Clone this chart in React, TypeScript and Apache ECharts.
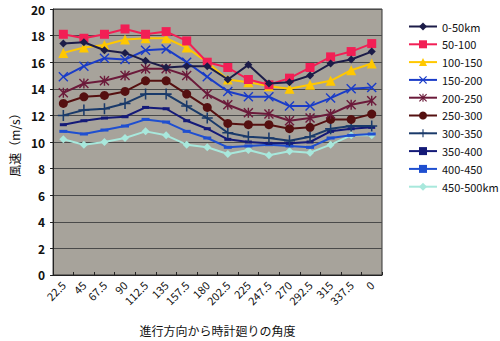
import React, { useEffect, useRef } from "react";
import * as echarts from "echarts";

const categories = ["22.5", "45", "67.5", "90", "112.5", "135", "157.5", "180", "202.5", "225", "247.5", "270", "292.5", "315", "337.5", "0"];

const seriesNames = ["0-50km", "50-100", "100-150", "150-200", "200-250", "250-300", "300-350", "350-400", "400-450", "450-500km"];

const s0_50 = [17.4, 17.5, 16.9, 16.7, 16.1, 15.6, 15.7, 15.7, 14.7, 15.8, 14.4, 14.5, 15.0, 15.9, 16.2, 16.8];
const s50_100 = [18.1, 17.8, 18.1, 18.5, 18.1, 18.3, 17.6, 16.0, 15.6, 14.7, 14.3, 14.8, 15.6, 16.4, 16.8, 17.4];
const s100_150 = [16.7, 17.1, 17.3, 17.7, 17.8, 17.8, 17.1, 16.0, 14.7, 14.5, 14.2, 14.0, 14.3, 14.6, 15.4, 15.9];
const s150_200 = [14.9, 15.7, 16.3, 16.2, 16.9, 17.0, 16.0, 14.9, 13.8, 13.4, 13.4, 12.7, 12.7, 13.3, 14.0, 14.1];
const s200_250 = [13.7, 14.4, 14.6, 15.0, 15.5, 15.5, 15.0, 13.6, 12.8, 12.2, 12.1, 11.6, 11.8, 12.1, 12.8, 13.1];
const s250_300 = [12.9, 13.4, 13.5, 13.8, 14.6, 14.6, 13.6, 12.6, 11.4, 11.3, 11.3, 11.0, 11.1, 11.7, 11.7, 12.1];
const s300_350 = [12.0, 12.4, 12.5, 12.9, 13.6, 13.6, 12.7, 11.8, 10.7, 10.4, 10.3, 10.1, 10.4, 11.0, 11.2, 11.2];
const s350_400 = [11.3, 11.6, 11.8, 11.9, 12.6, 12.5, 11.6, 11.0, 10.2, 10.0, 9.9, 9.9, 10.0, 10.8, 11.0, 11.1];
const s400_450 = [10.8, 10.6, 10.9, 11.2, 11.7, 11.5, 10.8, 10.3, 9.6, 9.7, 9.8, 9.7, 9.6, 10.3, 10.5, 10.6];
const s450_500 = [10.2, 9.8, 10.0, 10.3, 10.8, 10.5, 9.8, 9.6, 9.1, 9.4, 9.0, 9.3, 9.2, 9.8, 10.5, 10.5];

const allData = [s0_50, s50_100, s100_150, s150_200, s200_250, s250_300, s300_350, s350_400, s400_450, s450_500];

const colors = ["#1c1c48", "#f21f55", "#ffc800", "#1a3cc8", "#6b1a3a", "#551010", "#1a3a6a", "#141a78", "#1f4fd0", "#a8e8dc"];

const X_PATH = "path://M0,1L1,0L5,4L9,0L10,1L6,5L10,9L9,10L5,6L1,10L0,9L4,5Z";
const STAR_PATH = "path://M0,1L1,0L5,4L9,0L10,1L6,5L10,9L9,10L5,6L1,10L0,9L4,5Z M4.3,0L5.7,0L5.7,10L4.3,10Z";
const PLUS_PATH = "path://M4.3,0L5.7,0L5.7,4.3L10,4.3L10,5.7L5.7,5.7L5.7,10L4.3,10L4.3,5.7L0,5.7L0,4.3L4.3,4.3Z";

const symbols: any[] = ["diamond", "rect", "triangle", X_PATH, STAR_PATH, "circle", PLUS_PATH, "rect", "rect", "diamond"];
const symbolSizes: any[] = [8, 9, 10, 10, 10, 9, 11, [7, 3], [8, 3], 8];

const FONT = "'Noto Sans CJK JP', 'Noto Sans', sans-serif";

export default function App() {
  const ref = useRef<HTMLDivElement>(null);
  useEffect(() => {
    if (!ref.current) return;
    const chart = echarts.init(ref.current, null, { renderer: "svg" });
    chart.setOption({
      animation: false,
      backgroundColor: "#ffffff",
      textStyle: { fontFamily: FONT },
      grid: {
        left: 43,
        right: 118,
        top: 9,
        bottom: 58,
        show: true,
        backgroundColor: "#a7a39b",
        borderColor: "#333333",
        borderWidth: 1,
      },
      legend: {
        orient: "vertical",
        left: 403,
        top: 16,
        itemWidth: 28,
        itemHeight: 10,
        itemGap: 6.8,
        data: seriesNames,
        textStyle: { fontSize: 11, color: "#111", fontFamily: FONT },
      },
      xAxis: {
        type: "category",
        data: categories,
        boundaryGap: true,
        name: "進行方向から時計廻りの角度",
        nameLocation: "middle",
        nameGap: 49,
        nameTextStyle: { fontSize: 12, color: "#111", fontFamily: FONT },
        axisLine: { lineStyle: { color: "#222", width: 1 } },
        axisTick: { show: true, inside: true, length: 3, lineStyle: { color: "#222" } },
        axisLabel: { rotate: 45, interval: 0, fontSize: 11, color: "#111", margin: 8, fontFamily: FONT },
        splitLine: { show: false },
      },
      yAxis: {
        type: "value",
        min: 0,
        max: 20,
        interval: 2,
        name: "風速（m/s）",
        nameLocation: "middle",
        nameGap: 30,
        nameTextStyle: { fontSize: 12, color: "#111", fontFamily: FONT },
        axisLine: { show: true, lineStyle: { color: "#222", width: 1 } },
        axisTick: { show: true, length: 3, lineStyle: { color: "#222" } },
        axisLabel: { fontSize: 12, fontWeight: "bold", color: "#111", margin: 8, fontFamily: FONT },
        splitLine: { show: true, lineStyle: { color: "#4a4a4a", width: 1 } },
      },
      series: seriesNames.map((name, i) => ({
        name,
        type: "line",
        data: allData[i],
        symbol: symbols[i],
        symbolSize: symbolSizes[i],
        showSymbol: true,
        lineStyle: { color: colors[i], width: 2 },
        itemStyle: { color: colors[i], borderWidth: 0 },
        z: 20 - i,
      })),
    });
    return () => chart.dispose();
  }, []);
  return <div ref={ref} style={{ position: "fixed", left: 0, top: 0, width: 500, height: 341 }} />;
}
